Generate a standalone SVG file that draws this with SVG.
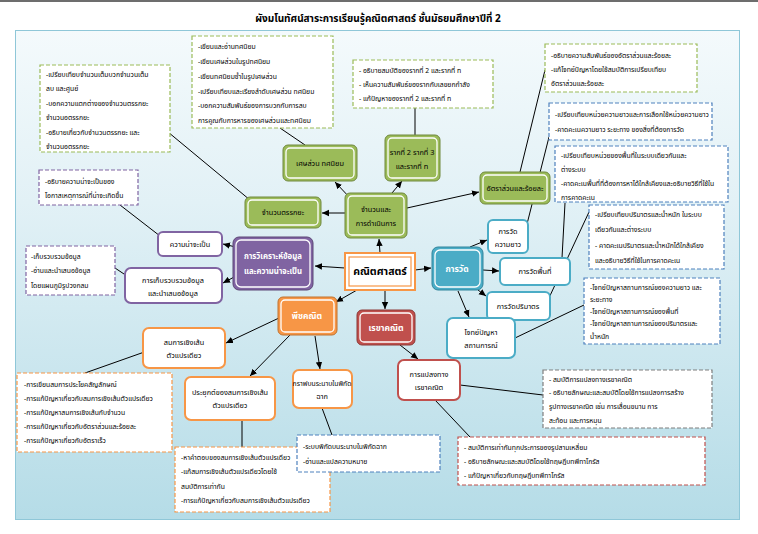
<svg xmlns="http://www.w3.org/2000/svg" width="758" height="534" viewBox="0 0 758 534">
<defs>
<linearGradient id="bg" x1="0" y1="0" x2="0" y2="1">
<stop offset="0" stop-color="#f4fafc"/>
<stop offset="0.35" stop-color="#e2f1f6"/>
<stop offset="1" stop-color="#b5dce7"/>
</linearGradient>
<marker id="ah" markerWidth="8" markerHeight="8" refX="7" refY="4" orient="auto" markerUnits="userSpaceOnUse">
<path d="M0,0.8 L7,4 L0,7.2 z" fill="#000"/>
</marker>
<style>
text{font-family:'Noto Sans Thai','Noto Sans','DejaVu Sans',sans-serif;fill:#000;}
.t{font-size:6.8px;}
.n{font-size:7.3px;text-anchor:middle;}
.nw{font-size:8.5px;text-anchor:middle;fill:#fff;font-weight:bold;}
.c{stroke:#000;stroke-width:1;fill:none;}
.a{stroke:#000;stroke-width:1;fill:none;marker-end:url(#ah);}
.db{fill:#fff;stroke-width:1.2;stroke-dasharray:4 2;}
.g{stroke:#9bbb59;}
.b{stroke:#4f81bd;}
.p{stroke:#8064a2;}
.o{stroke:#f79646;}
.r{stroke:#c0504d;}
.k{stroke:#7f7f7f;}
.gn{fill:#9bbb59;stroke:#71893f;stroke-width:1;}
.in{fill:none;stroke:#fff;stroke-width:1.3;}
.wn{fill:#fff;stroke-width:2;}
</style>
</defs>
<rect x="0" y="0" width="758" height="534" fill="#fff"/>
<rect x="0" y="0" width="758" height="2" fill="#6d6d6d"/>
<rect x="15.5" y="30.5" width="724" height="489" fill="url(#bg)" stroke="#8fc7d8" stroke-width="1"/>
<text x="378" y="22" style="font-size:10px;font-weight:bold;text-anchor:middle">ผังมโนทัศน์สาระการเรียนรู้คณิตศาสตร์ ชั้นมัธยมศึกษาปีที่ 2</text>

<g id="connectors">
<line class="a" x1="380" y1="253" x2="379" y2="239"/>
<line class="a" x1="345" y1="268" x2="315" y2="266"/>
<line class="a" x1="357" y1="290" x2="336" y2="302"/>
<line class="a" x1="385" y1="290" x2="385" y2="309"/>
<line class="a" x1="415" y1="270" x2="431" y2="268"/>
<line class="a" x1="352" y1="200" x2="335" y2="182"/>
<line class="a" x1="392" y1="193" x2="402" y2="181"/>
<line class="a" x1="407" y1="208" x2="479" y2="192"/>
<line class="a" x1="345" y1="213" x2="322" y2="213"/>
<line class="a" x1="240" y1="248" x2="223" y2="244"/>
<line class="a" x1="236" y1="276" x2="223" y2="283"/>
<line class="a" x1="279" y1="318" x2="226" y2="343"/>
<line class="a" x1="290" y1="335" x2="250" y2="376"/>
<line class="a" x1="315" y1="336" x2="320" y2="369"/>
<line class="a" x1="400" y1="345" x2="418" y2="359"/>
<line class="a" x1="470" y1="247" x2="487" y2="240"/>
<line class="a" x1="483" y1="270" x2="499" y2="271"/>
<line class="a" x1="478" y1="290" x2="486" y2="296"/>
<line class="a" x1="458" y1="291" x2="469" y2="317"/>
<line class="c" x1="168" y1="132" x2="250" y2="200"/>
<line class="c" x1="280" y1="128" x2="305" y2="145"/>
<line class="c" x1="415" y1="108" x2="415" y2="135"/>
<line class="c" x1="545" y1="70" x2="520" y2="172"/>
<line class="c" x1="120" y1="205" x2="160" y2="236"/>
<line class="c" x1="115" y1="268" x2="127" y2="276"/>
<line class="c" x1="150" y1="350" x2="85" y2="373"/>
<line class="c" x1="242" y1="420" x2="242" y2="447"/>
<line class="c" x1="322" y1="408" x2="332" y2="435"/>
<line class="c" x1="460" y1="385" x2="543" y2="395"/>
<line class="c" x1="435" y1="400" x2="470" y2="437"/>
<line class="c" x1="526" y1="228" x2="549" y2="137"/>
<line class="c" x1="562" y1="258" x2="565" y2="203"/>
<line class="c" x1="548" y1="300" x2="589" y2="212"/>
<line class="c" x1="515" y1="338" x2="584" y2="305"/>
</g>

<g id="box-integers">
<rect class="db g" x="40" y="65" width="130" height="87"/>
<text class="t" x="46" y="77">-เปรียบเทียบจำนวนเต็มบวกจำนวนเต็ม</text>
<text class="t" x="46" y="91">ลบ และศูนย์</text>
<text class="t" x="46" y="106">-บอกความแตกต่างของจำนวนตรรกยะ</text>
<text class="t" x="46" y="120">จำนวนอตรรกยะ</text>
<text class="t" x="46" y="135">-อธิบายเกี่ยวกับจำนวนตรรกยะ และ</text>
<text class="t" x="46" y="149">จำนวนอตรรกยะ</text>
</g>
<g id="box-fractions">
<rect class="db g" x="192" y="36" width="141" height="92"/>
<text class="t" x="198" y="49">-เขียนและอ่านทศนิยม</text>
<text class="t" x="198" y="64">-เขียนเศษส่วนในรูปทศนิยม</text>
<text class="t" x="198" y="79">-เขียนทศนิยมซ้ำในรูปเศษส่วน</text>
<text class="t" x="198" y="94">-เปรียบเทียบและเรียงลำดับเศษส่วน ทศนิยม</text>
<text class="t" x="198" y="108">-บอกความสัมพันธ์ของการบวกกับการลบ</text>
<text class="t" x="198" y="123">การคูณกับการหารของเศษส่วนและทศนิยม</text>
</g>
<g id="box-roots">
<rect class="db g" x="353" y="60" width="140" height="48"/>
<text class="t" x="359" y="73">- อธิบายสมบัติของรากที่ 2 และรากที่ n</text>
<text class="t" x="359" y="87">- เห็นความสัมพันธ์ของรากกับเลขยกกำลัง</text>
<text class="t" x="359" y="101">- แก้ปัญหาของรากที่ 2 และรากที่ n</text>
</g>
<g id="box-ratio">
<rect class="db g" x="545" y="44" width="152" height="48"/>
<text class="t" x="551" y="58">-อธิบายความสัมพันธ์ของอัตราส่วนและร้อยละ</text>
<text class="t" x="551" y="72">-แก้โจทย์ปัญหาโดยใช้สมบัติการเปรียบเทียบ</text>
<text class="t" x="551" y="86">อัตราส่วนและร้อยละ</text>
</g>
<g id="box-length">
<rect class="db b" x="549" y="103" width="163" height="37"/>
<text class="t" x="555" y="117">-เปรียบเทียบหน่วยความยาวและการเลือกใช้หน่วยความยาว</text>
<text class="t" x="555" y="132">-คาดคะเนความยาว ระยะทาง ของสิ่งที่ต้องการวัด</text>
</g>
<g id="box-area">
<rect class="db b" x="555" y="146" width="173" height="56"/>
<text class="t" x="561" y="158">-เปรียบเทียบหน่วยของพื้นที่ในระบบเดียวกันและ</text>
<text class="t" x="561" y="172">ต่างระบบ</text>
<text class="t" x="561" y="186">-คาดคะเนพื้นที่ที่ต้องการหาได้ใกล้เคียงและอธิบายวิธีที่ใช้ใน</text>
<text class="t" x="561" y="200">การคาดคะเน</text>
</g>
<g id="box-volume">
<rect class="db b" x="589" y="205" width="135" height="64"/>
<text class="t" x="595" y="217">-เปรียบเทียบปริมาตรและน้ำหนัก ในระบบ</text>
<text class="t" x="595" y="232">เดียวกันและต่างระบบ</text>
<text class="t" x="595" y="248">- คาดคะเนปริมาตรและน้ำหนักได้ใกล้เคียง</text>
<text class="t" x="595" y="263">และอธิบายวิธีที่ใช้ในการคาดคะเน</text>
</g>
<g id="box-problems">
<rect class="db b" x="584" y="278" width="136" height="66"/>
<text class="t" x="590" y="290">-โจทย์ปัญหาสถานการณ์ของความยาว และ</text>
<text class="t" x="590" y="302">ระยะทาง</text>
<text class="t" x="590" y="314">-โจทย์ปัญหาสถานการณ์ของพื้นที่</text>
<text class="t" x="590" y="326">-โจทย์ปัญหาสถานการณ์ของปริมาตรและ</text>
<text class="t" x="590" y="339">น้ำหนัก</text>
</g>
<g id="box-probability">
<rect class="db p" x="39" y="170" width="99" height="35"/>
<text class="t" x="45" y="184">-อธิบายความน่าจะเป็นของ</text>
<text class="t" x="45" y="198">โอกาสเหตุการณ์ที่น่าจะเกิดขึ้น</text>
</g>
<g id="box-data">
<rect class="db p" x="26" y="246" width="89" height="49"/>
<text class="t" x="31" y="259">-เก็บรวบรวมข้อมูล</text>
<text class="t" x="31" y="273">-อ่านและนำเสนอข้อมูล</text>
<text class="t" x="31" y="288">โดยแผนภูมิรูปวงกลม</text>
</g>
<g id="box-equations">
<rect class="db o" x="17" y="373" width="155" height="79"/>
<text class="t" x="24" y="387">-การเขียนสมการประโยคสัญลักษณ์</text>
<text class="t" x="24" y="401">-การแก้ปัญหาเกี่ยวกับสมการเชิงเส้นตัวแปรเดียว</text>
<text class="t" x="24" y="415">-การแก้ปัญหาสมการเชิงเส้นกับจำนวน</text>
<text class="t" x="24" y="429">-การแก้ปัญหาเกี่ยวกับอัตราส่วนและร้อยละ</text>
<text class="t" x="24" y="443">-การแก้ปัญหาเกี่ยวกับอัตราเร็ว</text>
</g>
<g id="box-applications">
<rect class="db o" x="175" y="447" width="155" height="65"/>
<text class="t" x="181" y="460">-หาคำตอบของสมการเชิงเส้นตัวแปรเดียว</text>
<text class="t" x="181" y="474">-แก้สมการเชิงเส้นตัวแปรเดียวโดยใช้</text>
<text class="t" x="181" y="489">สมบัติการเท่ากัน</text>
<text class="t" x="181" y="503">-การแก้ปัญหาเกี่ยวกับสมการเชิงเส้นตัวแปรเดียว</text>
</g>
<g id="box-graph">
<rect class="db b" x="297" y="435" width="143" height="37"/>
<text class="t" x="303" y="449">-ระบบพิกัดบนระนาบในพิกัดฉาก</text>
<text class="t" x="303" y="464">-อ่านและแปลความหมาย</text>
</g>
<g id="box-pythagoras">
<rect class="db r" x="458" y="437" width="247" height="48"/>
<text class="t" x="464" y="450">- สมบัติการเท่ากันทุกประการของรูปสามเหลี่ยม</text>
<text class="t" x="464" y="464">- อธิบายลักษณะและสมบัติโดยใช้ทฤษฎีบทพีทาโกรัส</text>
<text class="t" x="464" y="478">- แก้ปัญหาเกี่ยวกับทฤษฎีบทพีทาโกรัส</text>
</g>
<g id="box-transform">
<rect class="db k" x="543" y="370" width="169" height="58"/>
<text class="t" x="549" y="382">- สมบัติการแปลงทางเรขาคณิต</text>
<text class="t" x="549" y="395">- อธิบายลักษณะและสมบัติโดยใช้การแปลงการสร้าง</text>
<text class="t" x="549" y="409">รูปทางเรขาคณิต เช่น การเลื่อนขนาน การ</text>
<text class="t" x="549" y="423">สะท้อน และการหมุน</text>
</g>

<g id="node-math">
<rect x="345" y="253" width="70" height="37" fill="#fff" stroke="#f79646" stroke-width="2"/>
<rect x="349" y="257" width="62" height="29" fill="none" stroke="#f79646" stroke-width="1.2"/>
<text x="380" y="275" style="font-size:10.5px;font-weight:bold;text-anchor:middle">คณิตศาสตร์</text>
</g>
<g id="node-number">
<rect class="gn" x="345" y="193" width="62" height="45" rx="5"/>
<rect class="in" x="348" y="196" width="56" height="39" rx="4"/>
<text class="n" x="376" y="212">จำนวนและ</text>
<text class="n" x="376" y="226">การดำเนินการ</text>
</g>
<g id="node-fractions">
<rect class="gn" x="283" y="145" width="74" height="36" rx="5"/>
<rect class="in" x="286" y="148" width="68" height="30" rx="4"/>
<text class="n" x="320" y="166">เศษส่วน ทศนิยม</text>
</g>
<g id="node-roots">
<rect class="gn" x="385" y="135" width="55" height="46" rx="5"/>
<rect class="in" x="388" y="138" width="49" height="40" rx="4"/>
<text class="n" x="412" y="155">รากที่ 2 รากที่ 3</text>
<text class="n" x="412" y="169">และรากที่ n</text>
</g>
<g id="node-ratio">
<rect class="gn" x="480" y="172" width="70" height="32" rx="5"/>
<rect class="in" x="483" y="175" width="64" height="26" rx="4"/>
<text class="n" x="515" y="191">อัตราส่วนและร้อยละ</text>
</g>
<g id="node-rational">
<rect class="gn" x="245" y="197" width="76" height="31" rx="5"/>
<rect class="in" x="248" y="200" width="70" height="25" rx="4"/>
<text class="n" x="283" y="215">จำนวนตรรกยะ</text>
</g>
<g id="node-data-prob">
<rect x="233" y="237" width="80" height="53" rx="6" fill="#8064a2" stroke="#5c4776"/>
<rect class="in" x="236" y="240" width="74" height="47" rx="5"/>
<text class="nw" x="273" y="259" style="font-size:7.8px">การวิเคราะห์ข้อมูล</text>
<text class="nw" x="273" y="274" style="font-size:7.8px">และความน่าจะเป็น</text>
</g>
<g id="node-probability">
<rect class="wn p" x="158" y="232" width="64" height="24" rx="5"/>
<text class="n" x="190" y="247">ความน่าจะเป็น</text>
</g>
<g id="node-collect">
<rect class="wn p" x="125" y="268" width="97" height="35" rx="6"/>
<text class="n" x="173" y="283">การเก็บรวบรวมข้อมูล</text>
<text class="n" x="173" y="296">และนำเสนอข้อมูล</text>
</g>
<g id="node-algebra">
<rect x="278" y="297" width="59" height="38" rx="5" fill="#f79646" stroke="#c0732f"/>
<rect class="in" x="281" y="300" width="53" height="32" rx="4"/>
<text class="nw" x="307" y="319">พีชคณิต</text>
</g>
<g id="node-geometry">
<rect x="357" y="310" width="58" height="35" rx="5" fill="#c0504d" stroke="#8c3836"/>
<rect class="in" x="360" y="313" width="52" height="29" rx="4"/>
<text class="nw" x="386" y="331">เรขาคณิต</text>
</g>
<g id="node-measure">
<rect x="432" y="247" width="51" height="43" rx="6" fill="#4bacc6" stroke="#31859c"/>
<rect class="in" x="435" y="250" width="45" height="37" rx="5"/>
<text class="nw" x="457" y="272">การวัด</text>
</g>
<g id="node-length">
<rect class="wn b" x="488" y="220" width="40" height="33" rx="5" style="stroke:#4bacc6"/>
<text class="n" x="508" y="234">การวัด</text>
<text class="n" x="508" y="247">ความยาว</text>
</g>
<g id="node-area">
<rect class="wn b" x="500" y="258" width="70" height="27" rx="5" style="stroke:#4bacc6"/>
<text class="n" x="535" y="274">การวัดพื้นที่</text>
</g>
<g id="node-volume">
<rect class="wn b" x="487" y="292" width="63" height="28" rx="5" style="stroke:#4bacc6"/>
<text class="n" x="518" y="309">การวัดปริมาตร</text>
</g>
<g id="node-word-problems">
<rect class="wn b" x="447" y="318" width="68" height="40" rx="6" style="stroke:#4bacc6"/>
<text class="n" x="481" y="335">โจทย์ปัญหา</text>
<text class="n" x="481" y="348">สถานการณ์</text>
</g>
<g id="node-linear">
<rect class="wn o" x="143" y="328" width="82" height="40" rx="6"/>
<text class="n" x="184" y="345">สมการเชิงเส้น</text>
<text class="n" x="184" y="358">ตัวแปรเดียว</text>
</g>
<g id="node-apply">
<rect class="wn o" x="185" y="377" width="90" height="43" rx="6"/>
<text class="n" x="230" y="395">ประยุกต์ของสมการเชิงเส้น</text>
<text class="n" x="230" y="408">ตัวแปรเดียว</text>
</g>
<g id="node-graph">
<rect class="wn o" x="293" y="370" width="59" height="38" rx="6"/>
<text class="n" x="322" y="386" style="font-size:6.8px">กราฟบนระนาบในพิกัด</text>
<text class="n" x="322" y="399">ฉาก</text>
</g>
<g id="node-transform">
<rect class="wn r" x="398" y="360" width="62" height="40" rx="6"/>
<text class="n" x="429" y="377">การแปลงทาง</text>
<text class="n" x="429" y="390">เรขาคณิต</text>
</g>
</svg>
